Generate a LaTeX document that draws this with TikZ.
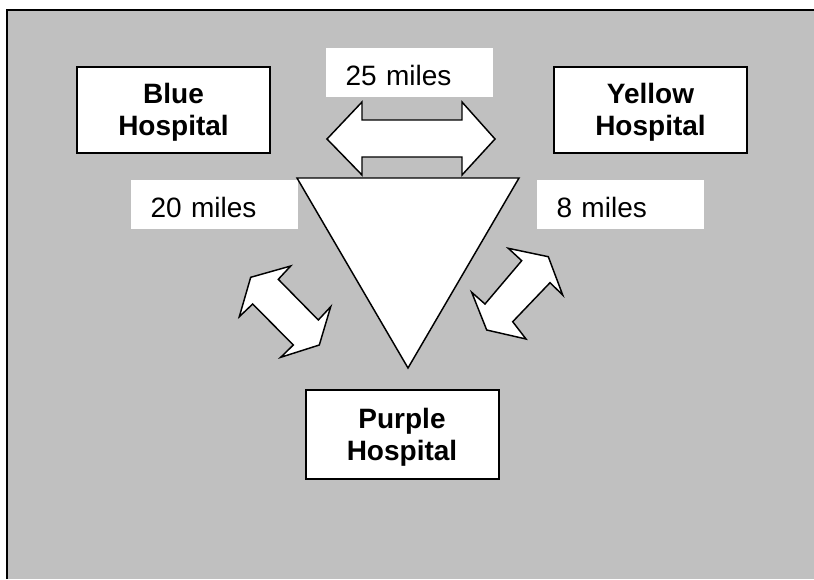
\documentclass[tikz,border=0pt]{standalone}
\usepackage{fontspec}
\setmainfont{Liberation Sans}
\definecolor{slide}{RGB}{192,192,192}
\begin{document}
\begin{tikzpicture}[x=0.75pt,y=-0.75pt,
  hospital/.style={draw=black, fill=white, line width=1.5pt, align=center,
    inner sep=0pt, text depth=0pt,
    font=\fontsize{21}{24}\selectfont\bfseries,
    minimum width=193*0.75pt, minimum height=86*0.75pt},
  distlabel/.style={fill=white, inner sep=0pt, align=left, anchor=south west,
    font=\fontsize{21}{24}\selectfont,
    text width=167*0.75pt, text height=28pt, text depth=8.25pt},
  blockarrow/.style={draw=black, fill=white, line width=1.1pt, line join=miter},
  wedge/.style={draw=black, fill=white, line width=1.1pt, line join=miter}]

  % page and slide area
  \fill[white] (0,0) rectangle (814,579);
  \useasboundingbox (0,0) rectangle (814,579);
  \fill[slide] (7,10) rectangle (814,579);
  \draw[line width=1.5pt] (7,579) -- (7,10) -- (814,10);

  % distance labels
  \node[distlabel] (d25) at (326,97) {\hspace*{14.5pt}25 miles};
  \node[distlabel] (d20) at (131,229) {\hspace*{14.5pt}20 miles};
  \node[distlabel] (d8)  at (537,229) {\hspace*{14.5pt}8 miles};

  % double block arrows
  \draw[blockarrow] (327,139) -- (362,102) -- (362,120) -- (462,120)
    -- (462,102) -- (495,139) -- (462,175) -- (462,157) -- (362,157)
    -- (362,175) -- cycle;
  \draw[blockarrow] (250.7,277.3) -- (290.7,266) -- (278.3,279.3)
    -- (318.3,320) -- (330.7,306.7) -- (319.3,345) -- (280.7,357.3)
    -- (293.3,345) -- (252.7,304) -- (239.3,316.7) -- cycle;
  \draw[blockarrow] (548.3,256.7) -- (562.7,295) -- (550,282.7)
    -- (512.7,321.7) -- (526,339) -- (486.7,330) -- (471.7,292.3)
    -- (485,304) -- (521.7,260.7) -- (508.3,248.3) -- cycle;

  % central triangle
  \coordinate (tl) at (297,178);
  \coordinate (tr) at (519,178);
  \coordinate (tb) at (408,368);
  \draw[wedge] (tl) -- (tr) -- (tb) -- cycle;

  % hospitals
  \node[hospital] (blue)   at (173.5,109.5) {Blue\\Hospital};
  \node[hospital] (yellow) at (650.5,109.5) {Yellow\\Hospital};
  \node[hospital, minimum height=89*0.75pt] (purple) at (402,434.5) {Purple\\Hospital};
\end{tikzpicture}
\end{document}
